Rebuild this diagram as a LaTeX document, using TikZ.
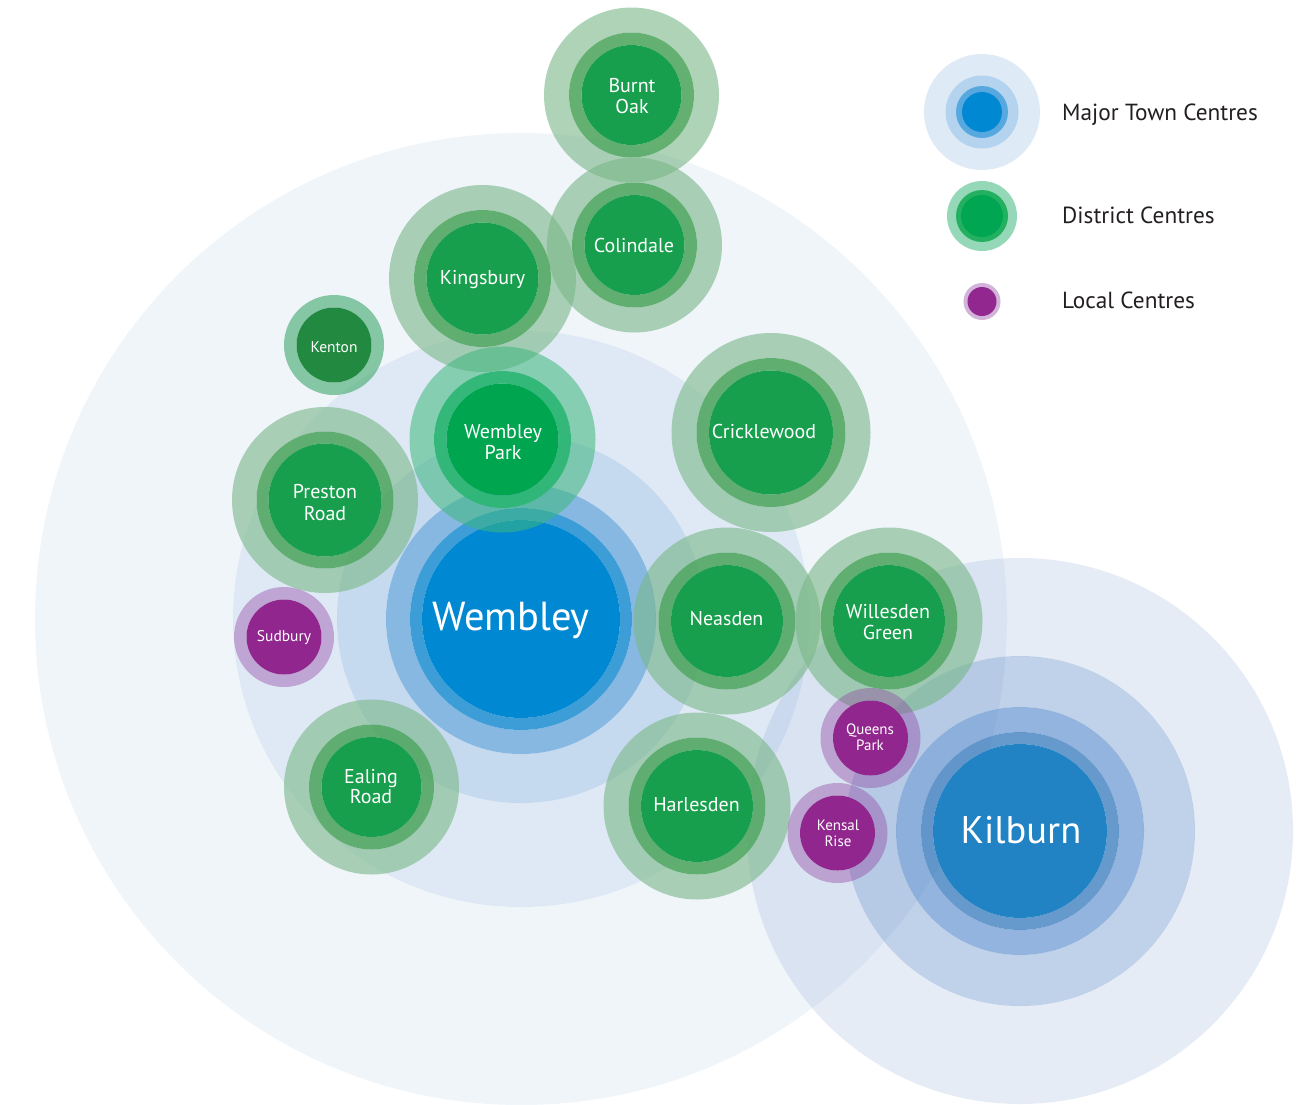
\documentclass[tikz,border=0pt]{standalone}
\usepackage{fontspec}
\setmainfont{PT Sans}
% Wembley rings
\definecolor{wA}{RGB}{115,165,215}
\definecolor{wB}{RGB}{95,145,205}
\definecolor{wC}{RGB}{92,149,212}
\definecolor{wD}{RGB}{55,138,208}
\definecolor{wE}{RGB}{28,141,209}
\definecolor{wF}{RGB}{0,136,210}
% Kilburn rings
\definecolor{kA}{RGB}{88,128,195}
\definecolor{kB}{RGB}{75,124,195}
\definecolor{kC}{RGB}{59,120,195}
\definecolor{kD}{RGB}{51,119,187}
\definecolor{kE}{RGB}{33,131,196}
% district centres
\definecolor{dOut}{RGB}{120,183,135}
\definecolor{dMid}{RGB}{73,163,89}
\definecolor{dCore}{RGB}{23,159,77}
\definecolor{bOut}{RGB}{62,184,124}
\definecolor{bMid}{RGB}{43,182,115}
\definecolor{bCore}{RGB}{0,165,80}
\definecolor{tOut}{RGB}{63,168,107}
\definecolor{tCore}{RGB}{34,137,64}
% local centres
\definecolor{pOut}{RGB}{143,65,160}
\definecolor{pCore}{RGB}{145,38,142}
% legend
\definecolor{lgA}{RGB}{223,234,247}
\definecolor{lgB}{RGB}{180,211,238}
\definecolor{lgC}{RGB}{88,168,224}
\definecolor{lgD}{RGB}{0,136,210}
\definecolor{lgGA}{RGB}{149,216,183}
\definecolor{lgGB}{RGB}{36,176,97}
\definecolor{lgGC}{RGB}{0,166,81}
\definecolor{lgPA}{RGB}{210,179,217}
\definecolor{lgPB}{RGB}{146,39,143}
\definecolor{legendgrey}{RGB}{35,31,32}

\newcommand\annulus[6]{\fill[#5, fill opacity=#6, even odd rule] (#1,#2) circle[radius=#3pt] (#1,#2) circle[radius=#4pt];}
\newcommand\disk[4]{\fill[#4] (#1,#2) circle[radius=#3pt];}
\newcommand\dullcentre[5]{%
  \annulus{#1}{#2}{#3}{#4}{dOut}{0.6}%
  \annulus{#1}{#2}{#4}{#5}{dMid}{0.85}%
  \disk{#1}{#2}{#5}{dCore}}
\newcommand\localcentre[2]{%
  \annulus{#1}{#2}{50}{37.5}{pOut}{0.4}%
  \disk{#1}{#2}{37.5}{pCore}}
\newcommand\lbl[5]{%
  \node[whitetxt, font=\fontsize{#4}{#4}\selectfont] (#1) at (#2,#3) {#5};}

\begin{document}
\begin{tikzpicture}[x=1pt,y=-1pt,
  whitetxt/.style={anchor=base, inner sep=0pt, text=white},
  legendtxt/.style={anchor=base west, inner sep=0pt, text=legendgrey, font=\fontsize{23.3}{23.3}\selectfont}]
\useasboundingbox (0,0) rectangle (1304,1104);
\clip (0,0) rectangle (1304,1104);
\fill[white] (0,0) rectangle (1304,1104);

% Wembley catchment rings
\annulus{521}{619}{486}{288}{wA}{0.1}
\annulus{521}{619}{288}{184}{wB}{0.2}
\annulus{521}{619}{184}{135}{wC}{0.35}
\annulus{521}{619}{135}{111}{wD}{0.6}
\annulus{521}{619}{111}{99}{wE}{0.85}
\disk{521}{619}{99}{wF}

% Kilburn catchment rings
\annulus{1020}{831}{273}{175}{kA}{0.15}
\annulus{1020}{831}{175}{124}{kB}{0.35}
\annulus{1020}{831}{124}{99}{kC}{0.55}
\annulus{1020}{831}{99}{87}{kD}{0.75}
\disk{1020}{831}{87}{kE}

% District centres
\dullcentre{631.5}{95}{87.5}{62.5}{50}
\dullcentre{634.5}{245}{87.5}{62.5}{50}
\dullcentre{482.5}{278.5}{93.5}{68.5}{56}
\dullcentre{325}{500}{93}{68.5}{56.5}
\dullcentre{771}{432.5}{99.5}{74.5}{62}
\dullcentre{727}{621}{93.5}{68.5}{56}
\dullcentre{889}{621}{93.5}{68.5}{56}
\dullcentre{697}{806}{93.5}{68.5}{56}
\dullcentre{371.5}{787}{87.5}{62.5}{50}
% Wembley Park
\annulus{502.5}{439.5}{93}{68.5}{bOut}{0.55}
\annulus{502.5}{439.5}{68.5}{56}{bMid}{0.95}
\disk{502.5}{439.5}{56}{bCore}
% Kenton
\annulus{334}{345}{50}{37.5}{tOut}{0.6}
\disk{334}{345}{37.5}{tCore}

% Local centres
\localcentre{284}{637}
\localcentre{870.5}{738}
\localcentre{837.5}{833}

% Legend
\disk{982}{112}{58}{lgA}
\disk{982}{112}{36.5}{lgB}
\disk{982}{112}{26}{lgC}
\disk{982}{112}{20}{lgD}
\disk{982}{216}{35}{lgGA}
\disk{982}{216}{26}{lgGB}
\disk{982}{216}{21}{lgGC}
\disk{982}{301.5}{18.5}{lgPA}
\disk{982}{301.5}{14.5}{lgPB}
\node[legendtxt] (lg-major) at (1062,120) {Major Town Centres};
\node[legendtxt] (lg-district) at (1062,223) {District Centres};
\node[legendtxt] (lg-local) at (1062,308) {Local Centres};

% Labels
\lbl{wembley}{511}{630}{40.5}{Wembley}
\lbl{kilburn}{1021}{843}{38.5}{Kilburn}
\lbl{burnt}{632}{92}{20}{Burnt}
\lbl{oak}{632}{113}{20}{Oak}
\lbl{colindale}{634}{252}{20}{Colindale}
\lbl{kingsbury}{482.5}{284}{20}{Kingsbury}
\lbl{kenton}{334}{352}{15.5}{Kenton}
\lbl{wpark1}{503}{438}{20}{Wembley}
\lbl{wpark2}{503}{459}{20}{Park}
\lbl{cricklewood}{764}{438}{20}{Cricklewood}
\lbl{preston}{325}{498}{20}{Preston}
\lbl{prestonroad}{325}{520}{20}{Road}
\lbl{sudbury}{284}{641}{15.5}{Sudbury}
\lbl{neasden}{726.5}{625}{20}{Neasden}
\lbl{willesden}{888}{618}{20}{Willesden}
\lbl{green}{888}{639}{20}{Green}
\lbl{queens}{870}{734}{15}{Queens}
\lbl{qpark}{870}{750}{15}{Park}
\lbl{ealing}{371}{783}{20}{Ealing}
\lbl{ealingroad}{371}{803}{20}{Road}
\lbl{harlesden}{696.5}{811}{20}{Harlesden}
\lbl{kensal}{838}{830}{15}{Kensal}
\lbl{rise}{838}{846}{15}{Rise}
\end{tikzpicture}
\end{document}
